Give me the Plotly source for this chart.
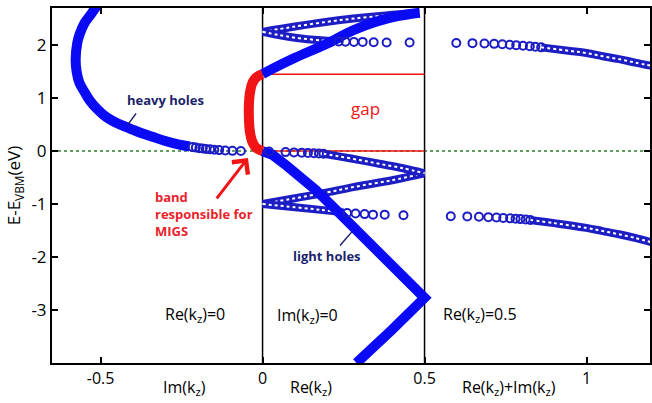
import plotly.graph_objects as go

# ---------------- data ----------------
# heavy holes (Im(kz) side) - dense part (thick) and sparse tail (circles)
hh_x = [-0.505, -0.530, -0.549, -0.565, -0.572, -0.577, -0.574, -0.565, -0.548, -0.534, -0.510, -0.482, -0.447, -0.411, -0.375, -0.340, -0.300, -0.257, -0.225]
hh_y = [2.80, 2.58, 2.42, 2.20, 2.04, 1.72, 1.50, 1.28, 1.10, 0.96, 0.79, 0.64, 0.52, 0.43, 0.34, 0.27, 0.19, 0.12, 0.085]
hh_tail_x = [-0.216, -0.206, -0.195, -0.185, -0.175, -0.162, -0.149, -0.134, -0.115, -0.093, -0.067]
hh_tail_y = [0.075, 0.065, 0.055, 0.047, 0.040, 0.032, 0.025, 0.018, 0.010, 0.004, 0.0]

# MIGS band (red)
migs_x = [0.0, -0.012, -0.024, -0.033, -0.039, -0.042, -0.042, -0.039, -0.033, -0.024, -0.012, 0.0]
migs_y = [1.45, 1.42, 1.36, 1.26, 1.10, 0.90, 0.60, 0.36, 0.20, 0.09, 0.03, 0.0]

# light holes (Im(kz)=0, thick) folding at Re(kz)=0.5
lh_x = [0.0, 0.03, 0.075, 0.12, 0.165, 0.23, 0.30, 0.40, 0.50, 0.40, 0.29]
lh_y = [0.0, -0.07, -0.28, -0.49, -0.74, -1.13, -1.55, -2.16, -2.77, -3.37, -4.0]

# upper band from top of gap (thick)
b_x = [0.0, 0.03, 0.10, 0.20, 0.28, 0.35, 0.42, 0.485]
b_y = [1.45, 1.55, 1.76, 2.03, 2.28, 2.44, 2.55, 2.61]

# band from 2.25 eV, upper branch (dense)
cu_x = [0.0, 0.10, 0.20, 0.28, 0.38, 0.485]
cu_y = [2.25, 2.35, 2.44, 2.50, 2.56, 2.61]
# band from 2.25 eV, lower branch: dense start and sparse circles
cl_x = [0.0, 0.05, 0.10, 0.18, 0.225]
cl_y = [2.25, 2.19, 2.14, 2.09, 2.075]
cl_pts_x = [0.235, 0.256, 0.282, 0.309, 0.343, 0.383, 0.454]
cl_pts_y = [2.07, 2.065, 2.06, 2.06, 2.055, 2.05, 2.05]

# band from the VBM along Re(kz): sparse circles then dense
e_pts_x = [0.02, 0.071, 0.097, 0.121, 0.140, 0.158, 0.174, 0.188]
e_pts_y = [-0.01, -0.02, -0.025, -0.03, -0.035, -0.04, -0.045, -0.05]
e_x = [0.188, 0.235, 0.30, 0.36, 0.43, 0.50]
e_y = [-0.05, -0.10, -0.17, -0.24, -0.32, -0.42]

# bands from -1 eV
d1_x = [0.0, 0.10, 0.20, 0.28, 0.40, 0.50]
d1_y = [-1.0, -0.89, -0.78, -0.68, -0.55, -0.42]
d2_x = [0.0, 0.10, 0.18, 0.25]
d2_y = [-1.0, -1.06, -1.11, -1.16]
d2_pts_x = [0.261, 0.287, 0.315, 0.341, 0.377, 0.435]
d2_pts_y = [-1.17, -1.18, -1.19, -1.20, -1.20, -1.21]

# Re(kz)=0.5 region, upper band
ru_pts_x = [0.598, 0.648, 0.685, 0.715, 0.740, 0.763, 0.783, 0.804, 0.825, 0.842, 0.860]
ru_pts_y = [2.04, 2.037, 2.031, 2.023, 2.016, 2.007, 1.999, 1.989, 1.978, 1.968, 1.957]
ru_x = [0.860, 0.95, 1.00, 1.05, 1.10, 1.15, 1.20]
ru_y = [1.957, 1.89, 1.85, 1.79, 1.735, 1.67, 1.61]
# Re(kz)=0.5 region, lower band
rl_pts_x = [0.581, 0.632, 0.668, 0.697, 0.722, 0.743, 0.764, 0.781, 0.796, 0.812, 0.826]
rl_pts_y = [-1.23, -1.233, -1.24, -1.247, -1.255, -1.262, -1.27, -1.277, -1.284, -1.291, -1.30]
rl_x = [0.826, 0.90, 1.00, 1.05, 1.10, 1.15, 1.20]
rl_y = [-1.30, -1.36, -1.45, -1.51, -1.57, -1.64, -1.72]

# reference lines
gap_top = 1.45
x_range = [-0.65, 1.196]
y_range = [-4.0, 2.7]
x_ticks = [-0.5, 0, 0.5, 1]
x_tick_text = ["-0.5", "0", "0.5", "1"]
y_ticks = [-3, -2, -1, 0, 1, 2]
y_tick_text = ["-3", "-2", "-1", "0", "1", "2"]

# ---------------- figure ----------------
BLUE = "#0a0af5"
CIRC = "#1d1dc4"
RED = "#f01414"
NAVY = "#1c1f6b"
FONT = "Open Sans"

fig = go.Figure()

def line(x, y, color, width, dash=None, shape="linear"):
    fig.add_trace(go.Scatter(x=x, y=y, mode="lines",
                             line=dict(color=color, width=width, dash=dash, shape=shape),
                             hoverinfo="skip", showlegend=False))

def chain(x, y):
    # dense run of overlapping open circles
    line(x, y, CIRC, 8, shape="spline")
    line(x, y, "white", 2, "dot", shape="spline")

def circles(x, y):
    fig.add_trace(go.Scatter(x=x, y=y, mode="markers",
                             marker=dict(symbol="circle-open", size=8, color=CIRC,
                                         line=dict(width=2, color=CIRC)),
                             hoverinfo="skip", showlegend=False))

# guide lines
line(x_range, [0, 0], "#2f7f2f", 1.5, "dot")
line([0, 0], y_range, "black", 1.5)
line([0.5, 0.5], y_range, "black", 1.5)
line([0, 0.5], [gap_top, gap_top], RED, 1.5)
line([0, 0.5], [0, 0], RED, 1.5)

# dense (chain) bands
chain(cu_x, cu_y)
chain(cl_x, cl_y)
chain(d1_x, d1_y)
chain(d2_x, d2_y)
chain(e_x, e_y)
chain(ru_x, ru_y)
chain(rl_x, rl_y)
# thick bands
line(hh_x, hh_y, BLUE, 10, shape="spline")
line(b_x, b_y, BLUE, 10, shape="spline")
line(lh_x, lh_y, BLUE, 10)

# sparse circles
circles(hh_tail_x, hh_tail_y)
circles(cl_pts_x, cl_pts_y)
circles(e_pts_x, e_pts_y)
circles(d2_pts_x, d2_pts_y)
circles(ru_pts_x, ru_pts_y)
circles(rl_pts_x, rl_pts_y)

# MIGS band
line(migs_x, migs_y, RED, 10, shape="spline")

ann = []
def text(x, y, s, color="black", size=16, bold=False, xanchor="center", xref="x", yref="y", align="center"):
    ann.append(dict(x=x, y=y, xref=xref, yref=yref, text=(f"<b>{s}</b>" if bold else s),
                    showarrow=False, xanchor=xanchor, yanchor="middle", align=align,
                    font=dict(family=FONT, size=size, color=color)))

text(-0.30, 0.96, "heavy holes", NAVY, 13, True)
text(0.20, -1.98, "light holes", NAVY, 13, True)
text(-0.337, -1.19, "band<br>responsible for<br>MIGS", "#e8232b", 13, True, xanchor="left", align="left")
text(0.318, 0.81, "gap", RED, 17)
text(-0.21, -3.09, "Re(k<sub>z</sub>)=0", "black", 16)
text(0.14, -3.11, "Im(k<sub>z</sub>)=0", "black", 16)
text(0.67, -3.09, "Re(k<sub>z</sub>)=0.5", "black", 16)
text(-0.24, -0.068, "Im(k<sub>z</sub>)", "black", 16, yref="paper")
text(0.15, -0.068, "Re(k<sub>z</sub>)", "black", 16, yref="paper")
text(0.76, -0.068, "Re(k<sub>z</sub>)+Im(k<sub>z</sub>)", "black", 16, yref="paper")

# pointer lines
ann.append(dict(x=-0.417, y=0.49, ax=-0.387, ay=0.74, xref="x", yref="y", axref="x", ayref="y",
                showarrow=True, arrowhead=0, arrowwidth=1.5, arrowcolor=NAVY, text=""))
ann.append(dict(x=0.275, y=-1.53, ax=0.235, ay=-1.81, xref="x", yref="y", axref="x", ayref="y",
                showarrow=True, arrowhead=0, arrowwidth=1.5, arrowcolor=NAVY, text=""))
# red arrow
ann.append(dict(x=-0.045, y=-0.13, ax=-0.145, ay=-0.92, xref="x", yref="y", axref="x", ayref="y",
                showarrow=True, arrowhead=4, arrowsize=1.3, arrowwidth=3, arrowcolor=RED, text=""))

fig.update_layout(
    width=652, height=403,
    margin=dict(l=52, r=0, t=8, b=40),
    plot_bgcolor="white", paper_bgcolor="white",
    font=dict(family=FONT, size=16, color="black"),
    annotations=ann,
    xaxis=dict(range=x_range, tickvals=x_ticks, ticktext=x_tick_text, showgrid=False, zeroline=False,
               showline=True, linecolor="black", linewidth=2, mirror="ticks",
               ticks="inside", ticklen=6, tickwidth=2, tickcolor="black",
               tickfont=dict(size=16)),
    yaxis=dict(range=y_range, tickvals=y_ticks, ticktext=y_tick_text, showgrid=False, zeroline=False,
               showline=True, linecolor="black", linewidth=2, mirror="ticks",
               ticks="inside", ticklen=6, tickwidth=2, tickcolor="black",
               tickfont=dict(size=17),
               title=dict(text="E-E<sub>VBM</sub>(eV)", font=dict(size=17), standoff=6)),
)

fig.write_html("out.html", config={"displayModeBar": False},
               post_script="document.body.style.margin='0';document.body.style.overflow='hidden';")
